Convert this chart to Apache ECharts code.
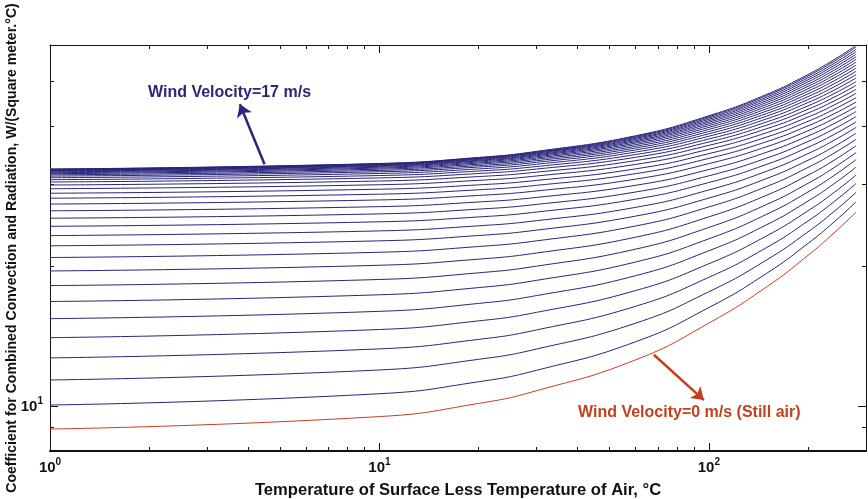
<!DOCTYPE html>
<html>
<head>
<meta charset="utf-8">
<script src="https://cdn.jsdelivr.net/npm/echarts@6/dist/echarts.min.js"></script>
<style>
  html, body { margin: 0; padding: 0; background: #ffffff; }
  #chart { width: 868px; height: 499px; }
</style>
</head>
<body>
<div id="chart"></div>
<script>
// Temperature differences (°C) at which each curve is sampled
const deltaT = [1, 10, 20, 30, 60, 100, 150, 200, 240, 280];

// Wind velocity of each curve, m/s (first one is still air)
const windSpeeds = [0, 0.5, 1, 1.5, 2, 2.5, 3, 3.5, 4, 4.5, 5, 5.5, 6, 6.5, 7, 7.5, 8, 8.5,
  9, 9.5, 10, 10.5, 11, 11.5, 12, 12.5, 13, 13.5, 14, 14.5, 15, 15.5, 16, 16.5, 17];

// Combined coefficient, W/(m²·°C): one array per temperature difference,
// one entry per wind velocity
const hAt1 = [8.92, 10.05, 11.38, 12.70, 14.04, 15.43, 16.80, 18.18, 19.55, 20.90, 22.15, 23.30,
  24.40, 25.40, 26.35, 27.25, 28.05, 28.75, 29.40, 29.95, 30.40, 30.75, 31.05, 31.30, 31.50,
  31.68, 31.83, 31.96, 32.07, 32.16, 32.24, 32.30, 32.35, 32.39, 32.42];
const hAt10 = [9.49, 10.63, 11.96, 13.28, 14.62, 16.00, 17.37, 18.74, 20.11, 21.45, 22.70, 23.85,
  24.95, 25.95, 26.90, 27.81, 28.62, 29.33, 29.99, 30.55, 31.02, 31.39, 31.71, 31.98, 32.20,
  32.40, 32.57, 32.72, 32.86, 32.97, 33.07, 33.15, 33.22, 33.28, 33.33];
const hAt20 = [10.13, 11.28, 12.61, 13.92, 15.26, 16.64, 18.00, 19.37, 20.73, 22.07, 23.31, 24.46,
  25.56, 26.57, 27.53, 28.44, 29.25, 29.97, 30.65, 31.23, 31.71, 32.10, 32.44, 32.74, 32.98,
  33.21, 33.40, 33.58, 33.74, 33.87, 34.00, 34.10, 34.20, 34.28, 34.34];
const hAt30 = [10.79, 11.94, 13.27, 14.59, 15.92, 17.30, 18.66, 20.02, 21.37, 22.70, 23.94, 25.09,
  26.19, 27.20, 28.16, 29.08, 29.90, 30.64, 31.32, 31.92, 32.42, 32.83, 33.20, 33.52, 33.79,
  34.04, 34.26, 34.46, 34.64, 34.80, 34.95, 35.08, 35.20, 35.31, 35.39];
const hAt60 = [12.58, 13.76, 15.09, 16.41, 17.74, 19.10, 20.44, 21.79, 23.12, 24.44, 25.67, 26.81,
  27.92, 28.93, 29.91, 30.84, 31.69, 32.45, 33.18, 33.81, 34.37, 34.84, 35.27, 35.65, 35.99,
  36.30, 36.60, 36.87, 37.12, 37.34, 37.56, 37.76, 37.94, 38.11, 38.25];
const hAt100 = [15.09, 16.30, 17.63, 18.94, 20.26, 21.61, 22.93, 24.26, 25.57, 26.86, 28.07, 29.22,
  30.32, 31.35, 32.34, 33.30, 34.18, 34.99, 35.76, 36.46, 37.08, 37.63, 38.15, 38.62, 39.05,
  39.47, 39.86, 40.22, 40.57, 40.89, 41.20, 41.49, 41.77, 42.03, 42.23];
const hAt150 = [18.08, 19.33, 20.66, 21.97, 23.28, 24.60, 25.91, 27.20, 28.48, 29.74, 30.94, 32.08,
  33.19, 34.24, 35.25, 36.23, 37.15, 38.01, 38.84, 39.61, 40.32, 40.97, 41.59, 42.17, 42.72,
  43.24, 43.74, 44.22, 44.68, 45.12, 45.54, 45.95, 46.33, 46.70, 46.98];
const hAt200 = [21.12, 22.41, 23.74, 25.05, 26.35, 27.65, 28.93, 30.20, 31.45, 32.68, 33.86, 35.00,
  36.11, 37.17, 38.20, 39.21, 40.17, 41.08, 41.97, 42.81, 43.61, 44.36, 45.09, 45.78, 46.44,
  47.08, 47.70, 48.30, 48.87, 49.42, 49.96, 50.48, 50.97, 51.45, 51.82];
const hAt240 = [23.61, 24.93, 26.26, 27.57, 28.86, 30.14, 31.40, 32.65, 33.87, 35.08, 36.24, 37.39,
  38.49, 39.57, 40.62, 41.65, 42.65, 43.60, 44.54, 45.44, 46.30, 47.14, 47.95, 48.73, 49.49,
  50.22, 50.94, 51.63, 52.30, 52.94, 53.58, 54.19, 54.77, 55.34, 55.78];
const hAt280 = [26.20, 27.55, 28.88, 30.19, 31.47, 32.74, 33.98, 35.20, 36.40, 37.58, 38.73, 39.87,
  40.98, 42.07, 43.14, 44.19, 45.22, 46.22, 47.21, 48.17, 49.11, 50.03, 50.93, 51.81, 52.66,
  53.49, 54.31, 55.10, 55.87, 56.61, 57.34, 58.05, 58.73, 59.39, 59.90];

// Axis ranges and tick positions
const xRange = [1, 300];
const yRange = [8, 60];
const xMajorTicks = [1, 10, 100];
const xMinorTicks = [2, 3, 4, 5, 6, 7, 8, 9, 20, 30, 40, 50, 60, 70, 80, 90, 200];
const yMajorTicks = [10];
const yMinorTicks = [9, 20, 30, 40, 50];

const xTitle = 'Temperature of Surface Less Temperature of Air, °C';
const yTitle = 'Coefficient for Combined Convection and Radiation, W/(Square meter.°C)';
const fastLabel = 'Wind Velocity=17 m/s';
const stillLabel = 'Wind Velocity=0 m/s (Still air)';

const FONT = '"Liberation Sans", Arial, Helvetica, sans-serif';
const INK = '#111111';
const BLUE = '#29257a';
const RED = '#c73d1f';

const columns = [hAt1, hAt10, hAt20, hAt30, hAt60, hAt100, hAt150, hAt200, hAt240, hAt280];

function powerLabel(v) {
  return '{b|10}{s|' + Math.round(Math.log10(v)) + '}';
}
const powerRich = {
  b: { fontFamily: FONT, fontSize: 15, fontWeight: 'bold', color: INK, verticalAlign: 'bottom', lineHeight: 17 },
  s: { fontFamily: FONT, fontSize: 10, fontWeight: 'bold', color: INK, verticalAlign: 'bottom', lineHeight: 17, padding: [0, 0, 8, 0] }
};

function logAxis(range, position, ticks, tickLen, lineWidth, withLabels) {
  return {
    type: 'log', logBase: 10, min: range[0], max: range[1], position: position,
    axisLine: { show: lineWidth > 0, onZero: false, lineStyle: { color: INK, width: lineWidth || 1 } },
    axisTick: { show: true, inside: true, length: tickLen, customValues: ticks, lineStyle: { color: INK, width: 1 } },
    axisLabel: withLabels
      ? { show: true, customValues: ticks, formatter: powerLabel, rich: powerRich, margin: 7 }
      : { show: false },
    splitLine: { show: false },
    minorTick: { show: false },
    minorSplitLine: { show: false },
    nameMoveOverlap: false,
    silent: true
  };
}

const xBottom = logAxis(xRange, 'bottom', xMajorTicks, 8, 2, true);
Object.assign(xBottom, {
  name: xTitle, nameLocation: 'middle', nameGap: 31,
  nameTextStyle: { fontFamily: FONT, fontSize: 16.6, fontWeight: 'bold', color: INK }
});
const yLeft = logAxis(yRange, 'left', yMajorTicks, 8, 1, true);
Object.assign(yLeft, {
  name: yTitle, nameLocation: 'middle', nameGap: 31,
  nameTextStyle: { fontFamily: FONT, fontSize: 14.1, fontWeight: 'bold', color: INK }
});

const curves = windSpeeds.map(function (v, k) {
  const still = k === 0;
  return {
    type: 'line',
    name: v + ' m/s',
    xAxisIndex: 0, yAxisIndex: 0,
    data: deltaT.map(function (t, i) { return [t, columns[i][k]]; }),
    smooth: 0.5,
    showSymbol: false,
    symbol: 'none',
    lineStyle: { width: 1, color: still ? RED : BLUE },
    z: still ? 4 : 3,
    silent: true
  };
});

// Pointer arrows for the two labelled curves
const arrowStyle = function (color) {
  return {
    silent: true, symbol: ['none', 'arrow'], symbolSize: 12, label: { show: false },
    lineStyle: { color: color, width: 2.5, type: 'solid' }, emphasis: { disabled: true }
  };
};
curves[curves.length - 1].markLine = Object.assign(arrowStyle(BLUE), {
  data: [[{ coord: [4.48, 33.2] }, { coord: [3.77, 44.7] }]]
});
curves[0].markLine = Object.assign(arrowStyle(RED), {
  data: [[{ coord: [68.1, 12.9] }, { coord: [96.6, 10.3] }]]
});

const chart = echarts.init(document.getElementById('chart'), null, { renderer: 'canvas' });
chart.setOption({
  animation: false,
  backgroundColor: '#ffffff',
  grid: { left: 50, right: 2, top: 45, bottom: 48, containLabel: false, outerBoundsMode: 'none' },
  xAxis: [
    xBottom,
    logAxis(xRange, 'bottom', xMinorTicks, 4, 0, false),
    logAxis(xRange, 'top', xMajorTicks, 8, 1, false),
    logAxis(xRange, 'top', xMinorTicks, 4, 0, false)
  ],
  yAxis: [
    yLeft,
    logAxis(yRange, 'left', yMinorTicks, 4, 0, false),
    logAxis(yRange, 'right', yMajorTicks, 8, 1, false),
    logAxis(yRange, 'right', yMinorTicks, 4, 0, false)
  ],
  graphic: [
    { type: 'text', left: 148, top: 85, silent: true,
      style: { text: fastLabel, fill: '#2b2878', font: 'bold 16px ' + FONT } },
    { type: 'text', left: 578, top: 405, silent: true,
      style: { text: stillLabel, fill: '#c3411f', font: 'bold 16px ' + FONT } }
  ],
  series: curves
});
</script>
</body>
</html>
